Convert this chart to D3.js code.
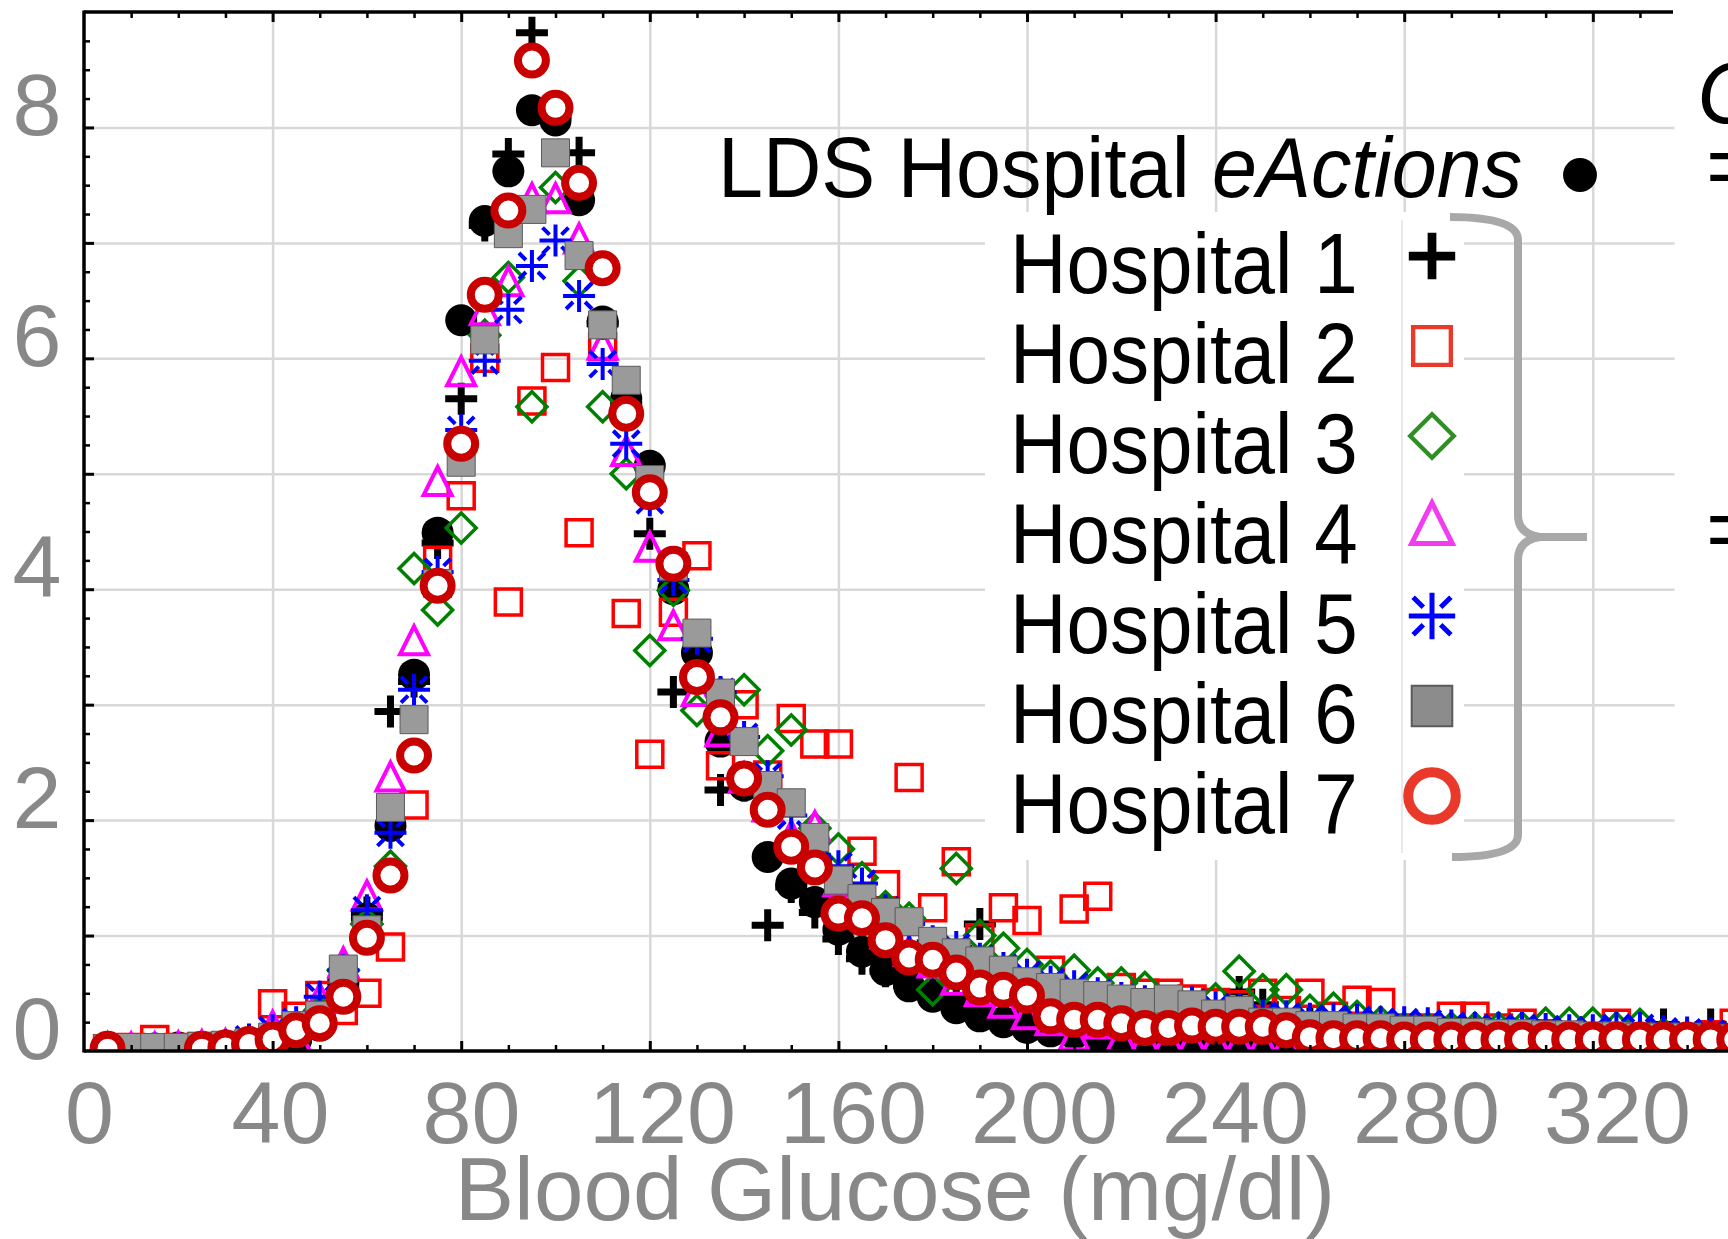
<!DOCTYPE html>
<html>
<head>
<meta charset="utf-8">
<script src="https://cdn.jsdelivr.net/npm/d3@7"></script>
<style>
  html, body { margin: 0; padding: 0; background: #fff; overflow: hidden; }
  svg { display: block; }
  text { font-family: "Liberation Sans", Arial, Helvetica, sans-serif; }
</style>
</head>
<body>
<svg id="chart" width="1728" height="1239"></svg>
<script>
// bin centres (mg/dl) and percent of readings per bin
const bins = [5,10,15,20,25,30,35,40,45,50,55,60,65,70,75,80,85,90,95,100,
  105,110,115,120,125,130,135,140,145,150,155,160,165,170,175,180,185,190,195,200,
  205,210,215,220,225,230,235,240,245,250,255,260,265,270,275,280,285,290,295,300,
  305,310,315,320,325,330,335,340,345,350]

const ldsEActions = [0.02,0.02,0.02,0.03,0.03,0.04,0.05,0.07,0.10,0.22,
  0.55,1.15,1.95,3.26,4.49,6.33,7.19,7.62,8.15,8.06,
  7.37,6.32,5.65,5.07,4.00,3.45,2.68,2.30,1.68,1.45,
  1.29,1.05,0.86,0.70,0.56,0.47,0.37,0.30,0.25,0.20,
  0.17,0.15,0.13,0.12,0.10,0.09,0.08,0.07,0.07,0.06,
  0.06,0.05,0.05,0.05,0.04,0.04,0.04,0.03,0.03,0.03,
  0.03,0.03,0.02,0.02,0.02,0.02,0.02,0.02,0.02,0.02]

const hospital1 = [0.01,0.01,0.02,0.02,0.03,0.04,0.06,0.10,0.15,0.30,
  0.60,1.20,2.94,3.20,4.40,5.65,7.15,7.77,8.82,8.10,
  7.78,6.30,5.60,4.48,3.11,3.25,2.26,2.30,1.09,1.42,
  1.20,0.97,0.80,0.69,0.57,0.50,0.45,1.10,0.33,0.25,
  0.20,0.17,0.15,0.13,0.12,0.10,0.10,0.10,0.51,0.40,
  0.10,0.25,0.08,0.08,0.07,0.07,0.07,0.06,0.06,0.06,
  0.05,0.05,0.05,0.05,0.05,0.05,0.23,0.05,0.23,0.05]

const hospital2 = [0.02,0.03,0.10,0.03,0.04,0.04,0.05,0.41,0.30,0.48,
  0.35,0.50,0.90,2.13,4.25,4.81,6.00,3.89,5.63,5.92,
  4.49,6.10,3.79,2.57,3.80,4.29,2.47,3.00,2.39,2.88,
  2.66,2.66,1.73,1.44,2.37,1.24,1.64,0.98,1.24,1.13,
  0.70,1.23,1.34,0.55,0.50,0.50,0.45,0.42,0.40,0.50,
  0.35,0.50,0.30,0.44,0.42,0.20,0.20,0.30,0.30,0.20,
  0.24,0.15,0.12,0.12,0.24,0.12,0.10,0.10,0.14,0.24]

const hospital3 = [0.01,0.01,0.02,0.02,0.03,0.03,0.04,0.06,0.18,0.35,
  0.70,1.10,1.60,4.18,3.82,4.53,6.20,6.70,5.58,7.48,
  6.67,5.58,5.00,3.47,3.99,2.95,3.10,3.13,2.60,2.78,
  1.93,1.75,1.50,1.25,1.15,0.53,1.58,1.00,0.89,0.75,
  0.65,0.70,0.59,0.59,0.55,0.40,0.35,0.45,0.69,0.53,
  0.53,0.35,0.37,0.30,0.25,0.20,0.20,0.20,0.20,0.20,
  0.20,0.24,0.24,0.24,0.20,0.23,0.15,0.12,0.10,0.10]

const hospital4 = [0.01,0.01,0.01,0.02,0.03,0.04,0.06,0.20,0.10,0.44,
  0.75,1.33,2.36,3.54,4.92,5.87,6.40,6.65,7.37,7.37,
  7.02,6.10,5.18,4.35,3.67,3.10,2.75,2.35,2.10,1.85,
  1.93,1.45,1.20,1.00,0.85,0.75,0.60,0.50,0.40,0.30,
  0.25,0.12,0.22,0.10,0.08,0.08,0.07,0.07,0.06,0.06,
  0.05,0.05,0.05,0.04,0.04,0.04,0.03,0.03,0.03,0.03,
  0.03,0.03,0.02,0.02,0.02,0.02,0.02,0.02,0.02,0.02]

const hospital5 = [0.01,0.01,0.02,0.02,0.03,0.05,0.10,0.18,0.25,0.47,
  0.70,1.22,1.89,3.13,4.15,5.38,5.98,6.42,6.80,7.02,
  6.54,5.95,5.26,4.77,4.08,3.57,3.11,2.72,2.38,2.04,
  1.70,1.60,1.45,1.22,1.10,0.95,0.90,0.80,0.72,0.66,
  0.60,0.56,0.50,0.46,0.43,0.42,0.42,0.38,0.36,0.31,
  0.30,0.28,0.28,0.27,0.25,0.25,0.24,0.22,0.20,0.20,
  0.20,0.19,0.18,0.18,0.20,0.20,0.17,0.16,0.15,0.15]

const hospital6 = [0.02,0.03,0.03,0.03,0.04,0.05,0.07,0.12,0.22,0.31,
  0.71,1.05,2.11,2.87,4.05,5.10,6.16,7.08,7.29,7.78,
  6.89,6.29,5.81,4.95,4.20,3.62,3.10,2.68,2.30,2.15,
  1.85,1.48,1.32,1.20,1.12,0.95,0.85,0.78,0.70,0.60,
  0.55,0.50,0.48,0.45,0.42,0.45,0.40,0.32,0.35,0.25,
  0.25,0.22,0.22,0.20,0.20,0.18,0.18,0.16,0.16,0.15,
  0.15,0.14,0.14,0.13,0.13,0.12,0.12,0.12,0.11,0.11]

const hospital7 = [0.02,null,null,null,0.02,0.03,0.06,0.10,0.18,0.24,
  0.47,0.98,1.52,2.56,4.03,5.26,6.55,7.28,8.58,8.17,
  7.52,6.78,5.52,4.84,4.22,3.24,2.89,2.36,2.09,1.77,
  1.59,1.19,1.15,0.96,0.81,0.79,0.68,0.55,0.53,0.48,
  0.30,0.27,0.27,0.24,0.20,0.20,0.22,0.21,0.21,0.21,
  0.18,0.12,0.11,0.11,0.11,0.10,0.10,0.10,0.10,0.10,
  0.10,0.10,0.10,0.10,0.10,0.10,0.10,0.10,0.10,0.10]

const hospitalNames = ["Hospital 1","Hospital 2","Hospital 3","Hospital 4","Hospital 5","Hospital 6","Hospital 7"]
const xTickLabels = [0,40,80,120,160,200,240,280,320]
const yTickLabels = [0,2,4,6,8]

// marker shapes, s = scale
const circlePath = (r) => `M${r},0A${r},${r} 0 1,1 ${-r},0A${r},${r} 0 1,1 ${r},0Z`
const shapes = {
  dot:      { d: (s) => circlePath(16 * s), fill: "#000", stroke: "none", sw: 0 },
  plus:     { d: (s) => `M${-16*s},0H${16*s}M0,${-16*s}V${16*s}`, fill: "none", stroke: "#000", sw: 7 },
  square:   { d: (s) => `M${-13*s},${-13*s}h${26*s}v${26*s}h${-26*s}Z`, fill: "none", stroke: "#ff0000", sw: 3.5 },
  diamond:  { d: (s) => `M0,${-15*s}L${15*s},0L0,${15*s}L${-15*s},0Z`, fill: "none", stroke: "#008000", sw: 3.5 },
  triangle: { d: (s) => `M0,${-16*s}L${14*s},${12*s}L${-14*s},${12*s}Z`, fill: "none", stroke: "#ff00ff", sw: 4 },
  asterisk: { d: (s) => `M0,${-16*s}V${16*s}M${-16*s},0H${16*s}` +
                `M${-6*s},${-6*s}L${-13*s},${-13*s}M${6*s},${-6*s}L${13*s},${-13*s}` +
                `M${-6*s},${6*s}L${-13*s},${13*s}M${6*s},${6*s}L${13*s},${13*s}`,
              fill: "none", stroke: "#0000ff", sw: 4 },
  graybox:  { d: (s) => `M${-14*s},${-14*s}h${28*s}v${28*s}h${-28*s}Z`, fill: "#9a9a9a", stroke: "#5a5a5a", sw: 1 },
  ring:     { d: (s) => circlePath(14 * s), fill: "#fff", stroke: "#c80000", sw: 8 },
}

const series = [
  { name: "LDS Hospital eActions", values: ldsEActions, shape: "dot" },
  { name: hospitalNames[0], values: hospital1, shape: "plus" },
  { name: hospitalNames[1], values: hospital2, shape: "square" },
  { name: hospitalNames[2], values: hospital3, shape: "diamond" },
  { name: hospitalNames[3], values: hospital4, shape: "triangle" },
  { name: hospitalNames[4], values: hospital5, shape: "asterisk" },
  { name: hospitalNames[5], values: hospital6, shape: "graybox" },
  { name: hospitalNames[6], values: hospital7, shape: "ring" },
]

const svg = d3.select("#chart")
const plotLeft = 84, plotTop = 12, plotBottom = 1051, plotRight = 1728, frameRight = 1673

const x = d3.scaleLinear().domain([0, 360]).range([plotLeft, plotLeft + 360 * 4.715])
const y = d3.scaleLinear().domain([0, 9]).range([plotBottom, plotTop])
// tick labels of the source figure sit on a slightly wider spacing than the grid
const xLabel = d3.scaleLinear().domain([0, 320]).range([89, 1617])

svg.append("defs").append("clipPath").attr("id", "plotclip")
  .append("rect").attr("x", plotLeft).attr("y", plotTop - 30)
  .attr("width", plotRight - plotLeft).attr("height", plotBottom - plotTop + 30)

// grid
svg.append("g")
  .attr("transform", `translate(0,${plotBottom})`)
  .call(d3.axisBottom(x).tickValues([40,80,120,160,200,240,280,320]).tickSize(-(plotBottom - plotTop)).tickFormat(""))
  .call((g) => g.select(".domain").remove())
  .selectAll("line").attr("stroke", "#d8d8d8").attr("stroke-width", 2.5)

svg.append("g")
  .attr("transform", `translate(${plotLeft},0)`)
  .call(d3.axisLeft(y).tickValues([1,2,3,4,5,6,7,8]).tickSize(-(plotRight - plotLeft)).tickFormat(""))
  .call((g) => g.select(".domain").remove())
  .selectAll("line").attr("stroke", "#d8d8d8").attr("stroke-width", 2.5)

// markers
const marks = svg.append("g").attr("clip-path", "url(#plotclip)")
series.forEach((s) => {
  const sh = shapes[s.shape]
  const pts = bins.map((g, i) => ({ g, v: s.values[i] })).filter((d) => d.v != null)
  marks.append("g").selectAll("path").data(pts).join("path")
    .attr("transform", (d) => `translate(${x(d.g)},${y(d.v)})`)
    .attr("d", sh.d(1))
    .attr("fill", sh.fill)
    .attr("stroke", sh.stroke)
    .attr("stroke-width", sh.sw)
})

// ticks (inward)
const tickStyle = (g, w) => {
  g.select(".domain").remove()
  g.selectAll("line").attr("stroke", "#000").attr("stroke-width", w)
}
const minorX = d3.range(10, 360, 10).filter((d) => d % 40 !== 0)
const majorX = d3.range(40, 360, 40)
const minorXTop = minorX.filter((d) => x(d) < frameRight - 4)
const majorXTop = majorX.filter((d) => x(d) < frameRight - 4)
const minorY = d3.range(0.25, 9, 0.25).filter((d) => d % 1 !== 0)
const majorY = d3.range(1, 9, 1)

svg.append("g").attr("transform", `translate(0,${plotBottom})`)
  .call(d3.axisBottom(x).tickValues(minorX).tickSize(-6).tickFormat("")).call(tickStyle, 2.5)
svg.append("g").attr("transform", `translate(0,${plotBottom})`)
  .call(d3.axisBottom(x).tickValues(majorX).tickSize(-10).tickFormat("")).call(tickStyle, 3)
svg.append("g").attr("transform", `translate(0,${plotTop})`)
  .call(d3.axisTop(x).tickValues(minorXTop).tickSize(-6).tickFormat("")).call(tickStyle, 2.5)
svg.append("g").attr("transform", `translate(0,${plotTop})`)
  .call(d3.axisTop(x).tickValues(majorXTop).tickSize(-10).tickFormat("")).call(tickStyle, 3)
svg.append("g").attr("transform", `translate(${plotLeft},0)`)
  .call(d3.axisLeft(y).tickValues(minorY).tickSize(-6).tickFormat("")).call(tickStyle, 2.5)
svg.append("g").attr("transform", `translate(${plotLeft},0)`)
  .call(d3.axisLeft(y).tickValues(majorY).tickSize(-10).tickFormat("")).call(tickStyle, 3)

// frame
svg.append("line").attr("x1", plotLeft).attr("x2", plotLeft).attr("y1", plotTop - 1.5).attr("y2", plotBottom + 1.5)
  .attr("stroke", "#000").attr("stroke-width", 3.5)
svg.append("line").attr("x1", plotLeft).attr("x2", plotRight).attr("y1", plotBottom).attr("y2", plotBottom)
  .attr("stroke", "#000").attr("stroke-width", 3.5)
svg.append("line").attr("x1", plotLeft).attr("x2", frameRight).attr("y1", plotTop).attr("y2", plotTop)
  .attr("stroke", "#000").attr("stroke-width", 3.5)

// tick labels
const xl = svg.append("g").attr("transform", "translate(0,1143)")
  .call(d3.axisBottom(xLabel).tickValues(xTickLabels).tickSize(0).tickPadding(0))
xl.select(".domain").remove()
xl.selectAll("text").attr("y", 0).attr("dy", 0)
  .attr("font-size", 88).attr("fill", "#888")
  .style("font-family", '"Liberation Sans", Arial, sans-serif')

const yl = svg.append("g").attr("transform", "translate(37,0)")
  .call(d3.axisLeft(y).tickValues(yTickLabels).tickSize(0).tickPadding(0))
yl.select(".domain").remove()
yl.selectAll("text").attr("x", 0).attr("y", 7).attr("dy", 0)
  .attr("text-anchor", "middle").attr("font-size", 88).attr("fill", "#888")
  .style("font-family", '"Liberation Sans", Arial, sans-serif')

svg.append("text").attr("x", 895).attr("y", 1220).attr("text-anchor", "middle")
  .attr("font-size", 89).attr("fill", "#888")
  .text("Blood Glucose (mg/dl)")

// right-hand panel of the source figure (cropped)
svg.append("rect").attr("x", frameRight + 1.5).attr("y", 0)
  .attr("width", plotRight - frameRight).attr("height", 880).attr("fill", "#fff")
svg.append("text").attr("x", 1697).attr("y", 123).attr("font-size", 88)
  .attr("font-style", "italic").text("C")
svg.append("text").attr("x", 1706).attr("y", 196).attr("font-size", 88).text("=")
svg.append("text").attr("x", 1706).attr("y", 559).attr("font-size", 88).text("=")

// legend
const lg = svg.append("g")
lg.append("rect").attr("x", 985).attr("y", 212).attr("width", 479).attr("height", 648).attr("fill", "#fff")
lg.append("line").attr("x1", 1402).attr("x2", 1402).attr("y1", 220).attr("y2", 853)
  .attr("stroke", "#e2e2e2").attr("stroke-width", 1.5)

const lds = lg.append("text").attr("transform", "translate(718,197) scale(0.94,1)")
  .attr("font-size", 86).attr("fill", "#000")
lds.append("tspan").text("LDS Hospital ")
lds.append("tspan").attr("font-style", "italic").text("eActions")
lg.append("path").attr("transform", "translate(1580,175)")
  .attr("d", shapes.dot.d(1.06)).attr("fill", "#000")

const legendColors = {
  plus: "#000", square: "#e8392b", diamond: "#2e8f22", triangle: "#f23cf2",
  asterisk: "#0000ff", graybox: "#5a5a5a", ring: "#e8392b",
}
series.slice(1).forEach((s, i) => {
  const sh = shapes[s.shape]
  lg.append("text").attr("transform", `translate(1010,${293 + 90 * i}) scale(0.92,1)`)
    .attr("font-size", 85).attr("fill", "#000").text(s.name)
  lg.append("path").attr("transform", `translate(1432,${256 + 90 * i})`)
    .attr("d", sh.d(s.shape === "ring" ? 1.7 : 1.45))
    .attr("fill", s.shape === "graybox" ? "#8c8c8c" : sh.fill)
    .attr("stroke", legendColors[s.shape])
    .attr("stroke-width", s.shape === "graybox" ? 2 : sh.sw * 1.25)
})

// brace grouping the seven hospitals
lg.append("path")
  .attr("d", "M1450,217 Q1518,217 1518,240 V515 Q1518,534 1540,537 H1587 M1540,537 Q1518,540 1518,560 V835 Q1518,857 1452,857")
  .attr("fill", "none").attr("stroke", "#a8a8a8").attr("stroke-width", 8)
</script>
</body>
</html>
